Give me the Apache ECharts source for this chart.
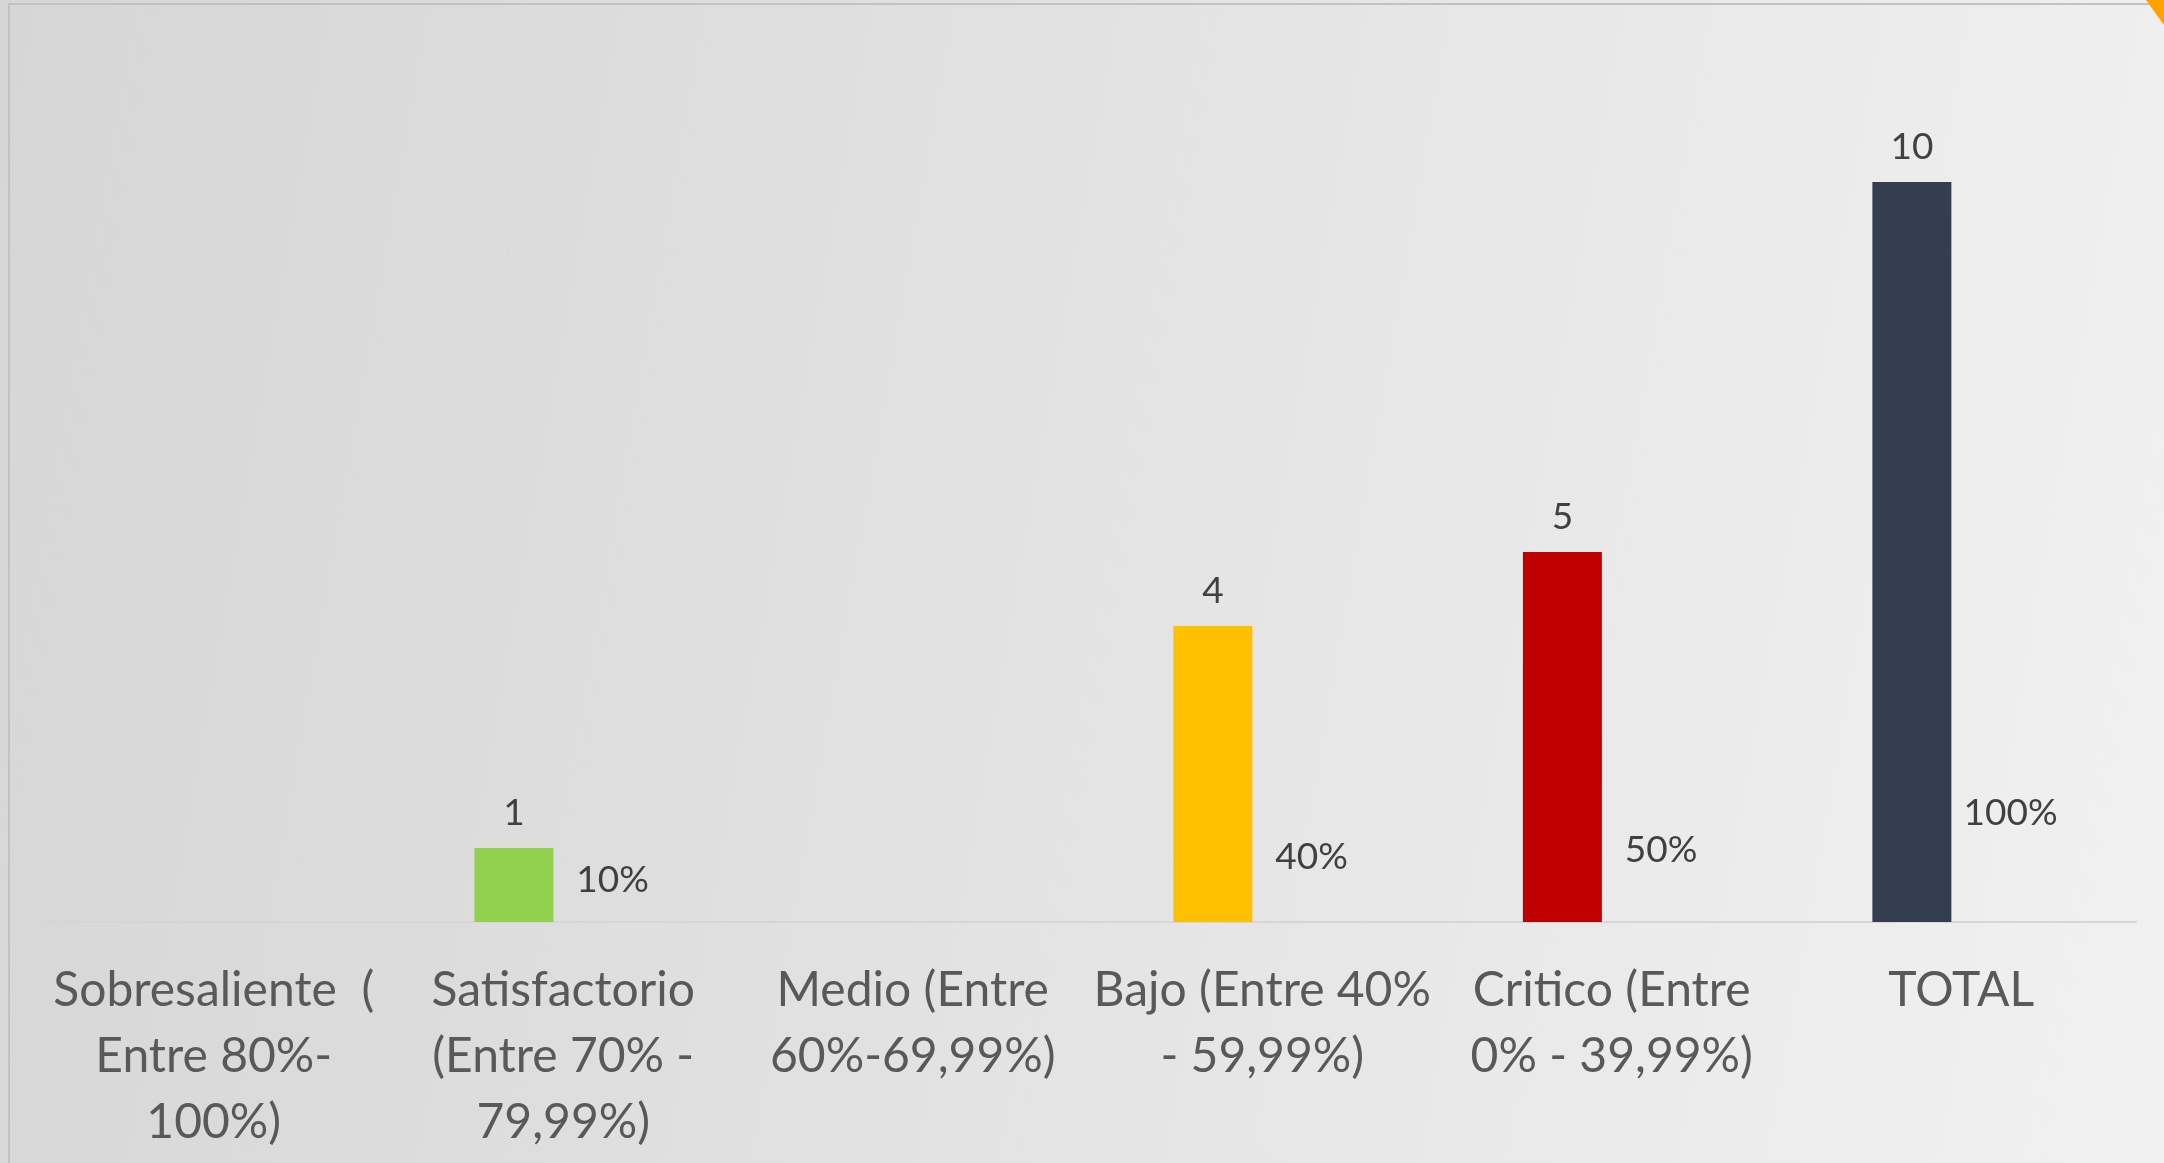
<!DOCTYPE html>
<html>
<head>
<meta charset="utf-8">
<script src="https://cdn.jsdelivr.net/npm/echarts@6/dist/echarts.min.js"></script>
<style>
  html, body { margin: 0; padding: 0; }
  #chart {
    width: 2164px; height: 1163px;
    background: linear-gradient(100deg, #d6d6d6 0%, #dcdcdc 25%, #e6e6e6 60%, #f1f1f1 100%);
  }
</style>
</head>
<body>
<div id="chart"></div>
<script>
// Performance bands (category labels, wrapped as shown on the axis)
const categories = [
  'Sobresaliente  (\nEntre 80%-\n100%)',
  'Satisfactorio\n(Entre 70% -\n79,99%)',
  'Medio (Entre\n60%-69,99%)',
  'Bajo (Entre 40%\n- 59,99%)',
  'Critico (Entre\n0% - 39,99%)',
  'TOTAL'
];
// Number of cases per band
const counts = [null, 1, null, 4, 5, 10];
// Share of the total per band
const shares = [null, 0.10, null, 0.40, 0.50, 1.00];
// Bar colours per band
const barColors = ['#92D050', '#92D050', '#FFC000', '#FFC000', '#C00000', '#333F50'];

const labelFont = { fontFamily: 'Lato', fontSize: 37, color: '#404040', lineHeight: 40 };

const chart = echarts.init(document.getElementById('chart'), null, { renderer: 'canvas' });
chart.setOption({
  animation: false,
  backgroundColor: 'transparent',
  grid: { left: 39, right: 28, top: 34, bottom: 241, containLabel: false },
  graphic: [
    { type: 'rect', shape: { x: 9, y: 4, width: 2300, height: 1300 },
      style: { fill: 'none', stroke: '#c2c2c2', lineWidth: 2 }, silent: true },
    { type: 'polygon', shape: { points: [[2146, 0], [2164, 0], [2164, 25]] },
      style: { fill: '#FFA200' }, silent: true }
  ],
  xAxis: {
    type: 'category',
    data: categories,
    axisLine: { lineStyle: { color: '#d6d6d6', width: 2 } },
    axisTick: { show: false },
    axisLabel: {
      interval: 0, margin: 36,
      fontFamily: 'Lato', fontSize: 48, lineHeight: 66, color: '#595959', align: 'center'
    }
  },
  yAxis: {
    type: 'value', min: 0, max: 12, interval: 2, show: false,
    splitLine: { show: false }
  },
  series: [
    {
      type: 'bar',
      data: counts.map((v, i) => ({ value: v, itemStyle: { color: barColors[i] } })),
      barWidth: 79,
      barGap: '25%',
      label: Object.assign({ show: true, position: 'top', distance: 15 }, labelFont)
    },
    {
      type: 'bar',
      data: shares,
      barWidth: 79,
      itemStyle: { color: 'rgba(0,0,0,0)' },
      label: Object.assign({
        show: true, position: 'top', distance: 15,
        formatter: p => Math.round(p.value * 100) + '%'
      }, labelFont)
    }
  ]
});
</script>
</body>
</html>
